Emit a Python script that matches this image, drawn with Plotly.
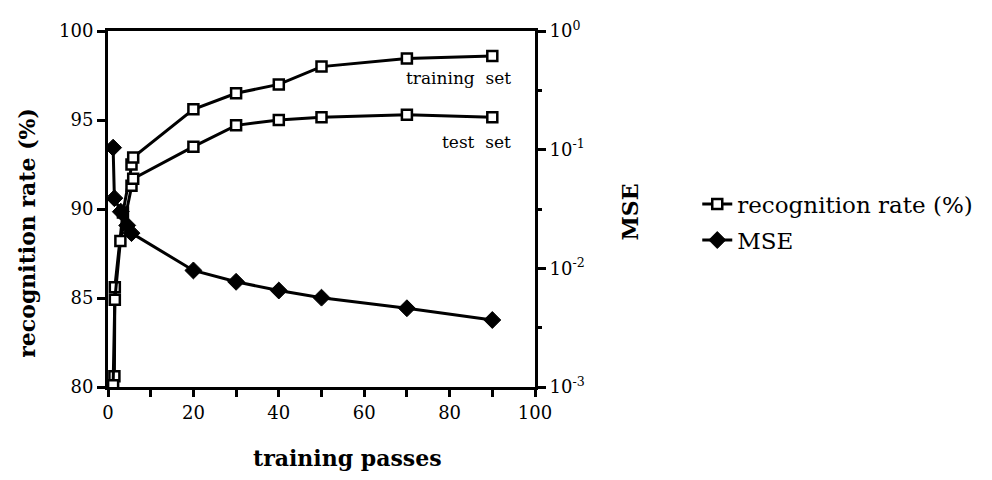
import plotly.graph_objects as go

# ---- data ----
train_passes = [1.5, 1.6, 3.5, 5.5, 5.9, 20, 30, 40, 50, 70, 90]
train_rate = [80.6, 85.6, 89.8, 92.5, 92.9, 95.6, 96.5, 97.0, 98.0, 98.45, 98.6]

test_passes = [1.2, 1.6, 2.9, 5.5, 5.9, 20, 30, 40, 50, 70, 90]
test_rate = [80.1, 84.9, 88.2, 91.3, 91.7, 93.5, 94.7, 95.0, 95.15, 95.3, 95.15]

mse_passes = [1.2, 1.5, 3.0, 4.5, 5.5, 20, 30, 40, 50, 70, 90]
mse_values = [0.104, 0.039, 0.030, 0.023, 0.0198, 0.0096, 0.0077, 0.0065, 0.00566, 0.00461, 0.00367]

x_ticks = [0, 20, 40, 60, 80, 100]
y_ticks = [80, 85, 90, 95, 100]
mse_ticks = [1e-3, 1e-2, 1e-1, 1]
mse_ticktext = ["10<sup>-3</sup>", "10<sup>-2</sup>", "10<sup>-1</sup>", "10<sup>0</sup>"]

FONT = "DejaVu Serif, Liberation Serif, serif"
BLACK = "#000000"

square_marker = dict(symbol="square", size=10, color="white", line=dict(color=BLACK, width=2.5))
diamond_marker = dict(symbol="diamond", size=13, color=BLACK, line=dict(color=BLACK, width=1))

fig = go.Figure()
fig.add_trace(go.Scatter(x=train_passes, y=train_rate, mode="lines+markers",
                         line=dict(color=BLACK, width=3), marker=square_marker,
                         name="recognition rate (%)", legendgroup="rate", showlegend=True))
fig.add_trace(go.Scatter(x=test_passes, y=test_rate, mode="lines+markers",
                         line=dict(color=BLACK, width=3), marker=square_marker,
                         name="test set", legendgroup="rate", showlegend=False))
fig.add_trace(go.Scatter(x=mse_passes, y=mse_values, mode="lines+markers", yaxis="y2",
                         line=dict(color=BLACK, width=3), marker=diamond_marker,
                         name="MSE", legendgroup="mse", showlegend=True))

fig.update_layout(
    width=976, height=464,
    margin=dict(l=100, r=449, t=23, b=85, autoexpand=False),
    paper_bgcolor="white", plot_bgcolor="white",
    font=dict(family=FONT, color=BLACK, size=18),
    showlegend=True,
    legend=dict(x=1.38, y=0.463, xanchor="left", yanchor="middle",
                font=dict(family=FONT, size=23, color=BLACK),
                itemwidth=30, traceorder="grouped", tracegroupgap=3,
                bgcolor="rgba(0,0,0,0)"),
    xaxis=dict(range=[0, 100], tickmode="array", tickvals=x_ticks,
               ticks="outside", ticklen=7, tickwidth=2.5, tickcolor=BLACK,
               minor=dict(dtick=10, ticks="outside", ticklen=7, tickwidth=2.5, tickcolor=BLACK),
               showline=True, linecolor=BLACK, linewidth=3, mirror=True,
               showgrid=False, zeroline=False, automargin=False,
               tickfont=dict(family=FONT, size=18)),
    yaxis=dict(range=[80, 100], tickmode="array", tickvals=y_ticks,
               ticks="outside", ticklen=8, tickwidth=2.5, tickcolor=BLACK,
               showline=True, linecolor=BLACK, linewidth=3,
               showgrid=False, zeroline=False, automargin=False,
               tickfont=dict(family=FONT, size=18)),
    yaxis2=dict(type="log", range=[-3, 0], overlaying="y", side="right",
                tickmode="array", tickvals=mse_ticks, ticktext=mse_ticktext,
                ticks="outside", ticklen=8, tickwidth=2.5, tickcolor=BLACK,
                minor=dict(tickvals=[10 ** -2.5, 10 ** -1.5, 10 ** -0.5], ticks="outside",
                           ticklen=4, tickwidth=2.5, tickcolor=BLACK),
                showline=True, linecolor=BLACK, linewidth=3,
                showgrid=False, zeroline=False, automargin=False,
                tickfont=dict(family=FONT, size=18)),
    annotations=[
        # axis titles
        dict(x=0.562, y=-0.2, xref="paper", yref="paper", text="<b>training passes</b>",
             showarrow=False, xanchor="center", yanchor="middle",
             font=dict(family=FONT, size=22, color=BLACK)),
        dict(x=-0.19, y=0.433, xref="paper", yref="paper", text="<b>recognition rate (%)</b>",
             showarrow=False, xanchor="center", yanchor="middle", textangle=-90,
             font=dict(family=FONT, size=22, color=BLACK)),
        dict(x=1.2225, y=0.49, xref="paper", yref="paper", text="<b>MSE</b>",
             showarrow=False, xanchor="center", yanchor="middle", textangle=-90,
             font=dict(family=FONT, size=22, color=BLACK)),
        # curve labels
        dict(x=82, y=97.36, xref="x", yref="y", text="training  set", showarrow=False,
             xanchor="center", yanchor="middle",
             font=dict(family=FONT, size=17, color=BLACK)),
        dict(x=86.4, y=93.76, xref="x", yref="y", text="test  set", showarrow=False,
             xanchor="center", yanchor="middle",
             font=dict(family=FONT, size=17, color=BLACK)),
    ],
)

fig.write_html("out.html")
